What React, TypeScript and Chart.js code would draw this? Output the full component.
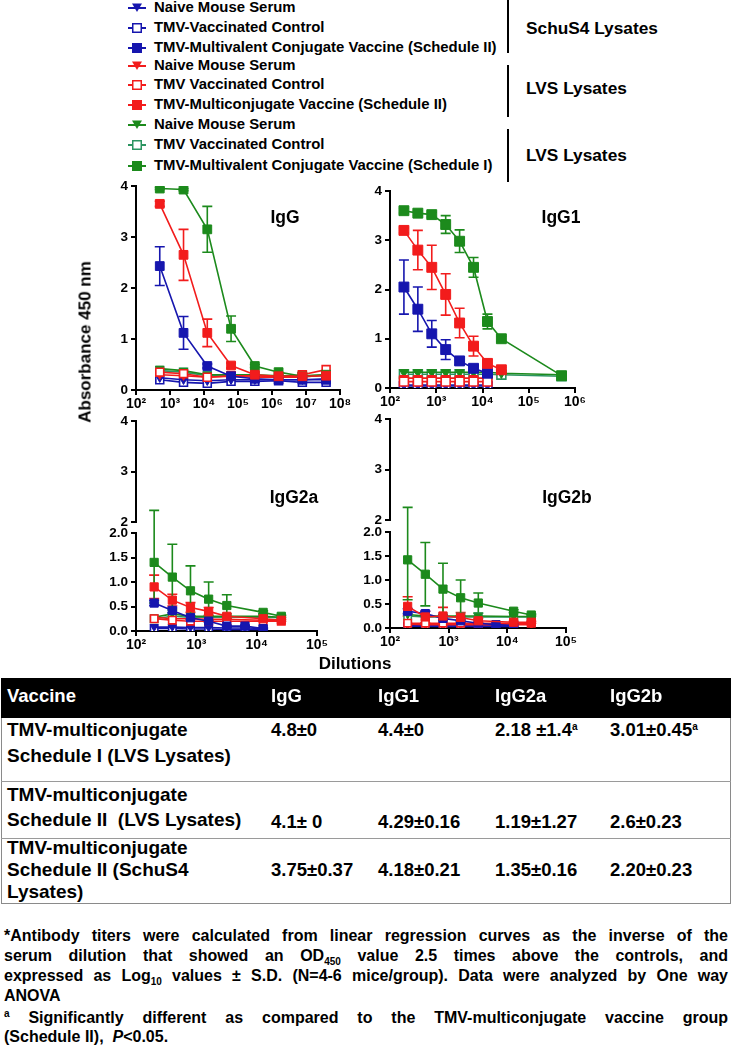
import React, { useEffect, useRef } from 'react';
import { Chart, registerables } from 'chart.js';

Chart.register(...registerables);

// ---------------- data ----------------
const BLUE = '#1616ae';
const RED = '#f21c1c';
const GREEN = '#1c8a1c';
const GREEN_OPEN = '#2b9461';

const LEGEND_LABELS = [
  'Naive Mouse Serum',
  'TMV-Vaccinated Control',
  'TMV-Multivalent Conjugate Vaccine (Schedule II)',
  'Naive Mouse Serum',
  'TMV Vaccinated Control',
  'TMV-Multiconjugate Vaccine (Schedule II)',
  'Naive Mouse Serum',
  'TMV Vaccinated Control',
  'TMV-Multivalent Conjugate Vaccine (Schedule I)',
];
const GROUP_LABELS = ['SchuS4 Lysates', 'LVS Lysates', 'LVS Lysates'];
const PANEL_TITLES = ['IgG', 'IgG1', 'IgG2a', 'IgG2b'];

const IGG_DILUTIONS = [500, 2500, 12500, 62500, 312500, 1562500, 7812500, 39062500];
const IGG1_DILUTIONS = [200, 400, 800, 1600, 3200, 6400, 12800, 25600, 512000];
const IGG2_DILUTIONS = [200, 400, 800, 1600, 3200, 6400, 12800, 25600];

const IGG_X_TICKS = [1e2, 1e3, 1e4, 1e5, 1e6, 1e7, 1e8];
const IGG1_X_TICKS = [1e2, 1e3, 1e4, 1e5, 1e6];
const IGG2_X_TICKS = [1e2, 1e3, 1e4, 1e5];
const Y_TICKS = [0, 1, 2, 3, 4];
const Y_LOW_TICKS = [0, 0.5, 1, 1.5, 2];
const Y_HIGH_TICKS = [2, 3, 4];

// IgG
const IGG_SCHU_NAIVE = [0.24, 0.2, 0.18, 0.2, 0.2, 0.2, 0.2, 0.22];
const IGG_SCHU_CTRL = [0.2, 0.15, 0.13, 0.17, 0.17, 0.18, 0.15, 0.15];
const IGG_SCHU_VAC = [2.43, 1.12, 0.47, 0.27, 0.22, 0.2, 0.2, 0.2];
const IGG_SCHU_VAC_ERR = [0.38, 0.32, 0.04, 0, 0, 0, 0, 0];
const IGG_LVS2_NAIVE = [0.3, 0.28, 0.25, 0.27, 0.25, 0.25, 0.25, 0.3];
const IGG_LVS2_CTRL = [0.35, 0.32, 0.25, 0.28, 0.28, 0.25, 0.3, 0.4];
const IGG_LVS2_VAC = [3.65, 2.65, 1.12, 0.48, 0.3, 0.27, 0.27, 0.28];
const IGG_LVS2_VAC_ERR = [0.05, 0.5, 0.27, 0.05, 0, 0, 0, 0];
const IGG_LVS1_NAIVE = [0.42, 0.38, 0.3, 0.3, 0.3, 0.28, 0.28, 0.3];
const IGG_LVS1_CTRL = [0.38, 0.35, 0.28, 0.28, 0.28, 0.27, 0.27, 0.28];
const IGG_LVS1_VAC = [3.95, 3.93, 3.15, 1.2, 0.47, 0.35, 0.27, 0.3];
const IGG_LVS1_VAC_ERR = [0.02, 0.02, 0.45, 0.25, 0.03, 0, 0, 0];

// IgG1
const IGG1_SCHU_NAIVE = [0.06, 0.06, 0.06, 0.06, 0.06, 0.06, 0.06, null, null];
const IGG1_SCHU_CTRL = [0.04, 0.04, 0.04, 0.04, 0.04, 0.04, 0.04, null, null];
const IGG1_SCHU_VAC = [2.05, 1.6, 1.1, 0.78, 0.55, 0.4, 0.3, null, null];
const IGG1_SCHU_VAC_ERR = [0.55, 0.45, 0.27, 0.2, 0.08, 0.05, 0.03, 0, 0];
const IGG1_LVS2_NAIVE = [0.2, 0.2, 0.2, 0.2, 0.2, 0.2, 0.2, null, null];
const IGG1_LVS2_CTRL = [0.13, 0.13, 0.13, 0.13, 0.13, 0.13, 0.13, null, null];
const IGG1_LVS2_VAC = [3.2, 2.8, 2.45, 1.9, 1.32, 0.85, 0.5, 0.37, null];
const IGG1_LVS2_VAC_ERR = [0.05, 0.4, 0.45, 0.42, 0.3, 0.2, 0.08, 0.05, 0];
const IGG1_LVS1_NAIVE = [0.32, 0.32, 0.32, 0.32, 0.32, 0.32, 0.32, 0.3, 0.27];
const IGG1_LVS1_CTRL = [0.28, 0.28, 0.28, 0.28, 0.28, 0.28, 0.28, 0.27, 0.24];
const IGG1_LVS1_VAC = [3.6, 3.55, 3.52, 3.32, 2.98, 2.45, 1.35, 1.0, 0.25];
const IGG1_LVS1_VAC_ERR = [0.05, 0.05, 0.05, 0.18, 0.23, 0.2, 0.15, 0.05, 0.08];

// IgG2a
const IGG2A_SCHU_NAIVE = [0.08, 0.08, 0.07, 0.07, 0.06, 0.06, 0.05, null];
const IGG2A_SCHU_CTRL = [0.05, 0.05, 0.04, 0.04, 0.03, 0.03, 0.03, null];
const IGG2A_SCHU_VAC = [0.57, 0.42, 0.27, 0.2, 0.1, 0.1, 0.05, null];
const IGG2A_SCHU_VAC_ERR = [0.05, 0.05, 0.03, 0.02, 0.02, 0.02, 0.01, 0];
const IGG2A_LVS2_NAIVE = [0.28, 0.25, 0.25, 0.24, 0.24, null, 0.22, 0.22];
const IGG2A_LVS2_CTRL = [0.25, 0.22, 0.2, 0.2, 0.2, null, 0.2, 0.2];
const IGG2A_LVS2_VAC = [0.9, 0.63, 0.48, 0.4, 0.3, null, 0.25, 0.22];
const IGG2A_LVS2_VAC_ERR = [0.24, 0.12, 0.1, 0.08, 0.05, 0, 0.03, 0.02];
const IGG2A_LVS1_NAIVE = [0.28, 0.35, 0.3, 0.3, 0.3, null, 0.3, 0.28];
const IGG2A_LVS1_CTRL = [0.25, 0.3, 0.28, 0.28, 0.28, null, 0.28, 0.27];
const IGG2A_LVS1_VAC = [1.4, 1.1, 0.82, 0.65, 0.52, null, 0.38, 0.3];
const IGG2A_LVS1_VAC_ERR = [0.83, 0.67, 0.51, 0.35, 0.22, 0, 0.03, 0.02];

// IgG2b
const IGG2B_SCHU_NAIVE = [0.06, 0.06, 0.05, 0.05, 0.05, 0.05, 0.05, null];
const IGG2B_SCHU_CTRL = [0.04, 0.04, 0.03, 0.03, 0.03, 0.03, 0.03, null];
const IGG2B_SCHU_VAC = [0.35, 0.3, 0.2, 0.15, 0.1, 0.07, 0.05, null];
const IGG2B_SCHU_VAC_ERR = [0.05, 0.05, 0.03, 0.02, 0.02, 0.02, 0.01, 0];
const IGG2B_LVS2_NAIVE = [0.08, 0.07, 0.07, 0.07, 0.07, null, 0.07, 0.07];
const IGG2B_LVS2_CTRL = [0.1, 0.1, 0.1, 0.1, 0.1, null, 0.1, 0.1];
const IGG2B_LVS2_VAC = [0.45, 0.23, 0.25, 0.22, 0.15, null, 0.12, 0.12];
const IGG2B_LVS2_VAC_ERR = [0.2, 0.12, 0.18, 0.1, 0.05, 0, 0.02, 0.02];
const IGG2B_LVS1_NAIVE = [0.28, 0.25, 0.25, 0.25, 0.25, null, 0.24, 0.24];
const IGG2B_LVS1_CTRL = [0.25, 0.23, 0.23, 0.23, 0.23, null, 0.23, 0.23];
const IGG2B_LVS1_VAC = [1.42, 1.12, 0.81, 0.63, 0.52, null, 0.35, 0.27];
const IGG2B_LVS1_VAC_ERR = [0.83, 0.66, 0.54, 0.37, 0.21, 0, 0.03, 0.02];

// table
const TABLE_HEADERS = ['Vaccine', 'IgG', 'IgG1', 'IgG2a', 'IgG2b'];
const TABLE_VACCINES = [
  ['TMV-multiconjugate', 'Schedule I (LVS Lysates)'],
  ['TMV-multiconjugate', 'Schedule II  (LVS Lysates)'],
  ['TMV-multiconjugate', 'Schedule II (SchuS4', 'Lysates)'],
];
const TABLE_IGG = ['4.8±0', '4.1± 0', '3.75±0.37'];
const TABLE_IGG1 = ['4.4±0', '4.29±0.16', '4.18±0.21'];
const TABLE_IGG2A = ['2.18 ±1.4', '1.19±1.27', '1.35±0.16'];
const TABLE_IGG2B = ['3.01±0.45', '2.6±0.23', '2.20±0.23'];
const TABLE_SIG = [[false, false, true, true], [false, false, false, false], [false, false, false, false]];

// ---------------- helpers ----------------
const FONT = '"Liberation Sans", Arial, Helvetica, sans-serif';
const SUP: Record<string, string> = { '0': '⁰', '1': '¹', '2': '²', '3': '³', '4': '⁴', '5': '⁵', '6': '⁶', '7': '⁷', '8': '⁸', '9': '⁹' };
const decadeLabel = (v: number) => '10' + String(Math.round(Math.log10(v))).split('').map((c) => SUP[c]).join('');

type Kind = 'naive' | 'ctrl' | 'vac';
interface Series { label: string; color: string; kind: Kind; values: (number | null)[]; errors?: number[] }

function groupSeries(schu: any[], lvs2: any[], lvs1: any[]): Series[] {
  // each group = [naive, ctrl, vac, vacErr]
  return [
    { label: LEGEND_LABELS[5], color: RED, kind: 'vac', values: lvs2[2], errors: lvs2[3] },
    { label: LEGEND_LABELS[2], color: BLUE, kind: 'vac', values: schu[2], errors: schu[3] },
    { label: LEGEND_LABELS[8], color: GREEN, kind: 'vac', values: lvs1[2], errors: lvs1[3] },
    { label: LEGEND_LABELS[4], color: RED, kind: 'ctrl', values: lvs2[1] },
    { label: LEGEND_LABELS[3], color: RED, kind: 'naive', values: lvs2[0] },
    { label: LEGEND_LABELS[6], color: GREEN, kind: 'naive', values: lvs1[0] },
    { label: LEGEND_LABELS[7], color: GREEN_OPEN, kind: 'ctrl', values: lvs1[1] },
    { label: LEGEND_LABELS[0], color: BLUE, kind: 'naive', values: schu[0] },
    { label: LEGEND_LABELS[1], color: BLUE, kind: 'ctrl', values: schu[1] },
  ];
}

function toDatasets(x: number[], list: Series[], r: number) {
  return list.map((s) => {
    const data: any[] = [];
    s.values.forEach((v, i) => {
      if (v != null) data.push({ x: x[i], y: v, e: s.errors ? s.errors[i] || 0 : 0 });
    });
    const tri = s.kind === 'naive';
    return {
      label: s.label,
      data,
      yAxisID: 'y',
      borderColor: s.color,
      borderWidth: 1.6,
      tension: 0,
      fill: false,
      spanGaps: true,
      pointStyle: tri ? 'triangle' : 'rect',
      pointRotation: tri ? 180 : 0,
      pointRadius: tri ? r * 0.75 : s.kind === 'ctrl' ? r * 0.9 : r,
      pointBackgroundColor: s.kind === 'ctrl' ? '#ffffff' : s.color,
      pointBorderColor: s.color,
      pointBorderWidth: s.kind === 'ctrl' ? 1.6 : 1,
    };
  });
}

const errorBars = {
  id: 'errorBars',
  beforeDatasetsDraw(chart: any) {
    const { ctx } = chart;
    const yLow = chart.scales.y;
    const yHigh = chart.scales.y2;
    const toPx = (v: number) => (yHigh && v > yLow.max ? yHigh.getPixelForValue(v) : yLow.getPixelForValue(v));
    const cap = 5;
    ctx.save();
    chart.data.datasets.forEach((ds: any, di: number) => {
      const meta = chart.getDatasetMeta(di);
      ds.data.forEach((p: any, i: number) => {
        if (!p.e) return;
        const el = meta.data[i];
        if (!el) return;
        const x = el.x;
        const t = toPx(p.y + p.e);
        const b = toPx(Math.max(p.y - p.e, 0));
        ctx.strokeStyle = ds.borderColor;
        ctx.lineWidth = 1.6;
        ctx.beginPath();
        ctx.moveTo(x, t);
        ctx.lineTo(x, b);
        ctx.moveTo(x - cap, t);
        ctx.lineTo(x + cap, t);
        ctx.moveTo(x - cap, b);
        ctx.lineTo(x + cap, b);
        ctx.stroke();
      });
    });
    ctx.restore();
  },
};

const upperAxisLine = {
  id: 'upperAxisLine',
  afterDraw(chart: any) {
    const y2 = chart.scales.y2;
    if (!y2) return;
    const y = chart.scales.y;
    const x = y._borderValue != null ? y._borderValue : y.right - 1;
    const { ctx } = chart;
    ctx.save();
    ctx.strokeStyle = '#000';
    ctx.lineWidth = 2;
    ctx.beginPath();
    ctx.moveTo(x, y2.getPixelForValue(4) - 1);
    ctx.lineTo(x, y2.getPixelForValue(2) + 1);
    ctx.stroke();
    ctx.restore();
  },
};

const tickFont = { family: FONT, size: 13.5, weight: 'bold' as const };
const axisStyle = () => ({
  grid: { display: true, drawOnChartArea: false, drawTicks: true, tickLength: 5, color: '#000', lineWidth: 2 },
  border: { display: true, color: '#000', width: 2 },
});

interface PanelSpec {
  x: number[];
  series: Series[];
  xTicks: number[];
  yWidth: number;
  xHeight: number;
  padTop: number;
  padRight: number;
  r: number;
  broken?: { upperWeight: number; lowerWeight: number; upperMin: number };
}

function makeConfig(p: PanelSpec): any {
  const xScale = {
    type: 'logarithmic',
    min: p.xTicks[0],
    max: p.xTicks[p.xTicks.length - 1],
    afterBuildTicks: (s: any) => { s.ticks = p.xTicks.map((v) => ({ value: v })); },
    afterFit: (s: any) => { s.height = p.xHeight; },
    ticks: { color: '#000', font: { ...tickFont, size: 14 }, autoSkip: false, maxRotation: 0, minRotation: 0, padding: 1, callback: (v: any) => decadeLabel(Number(v)) },
    ...axisStyle(),
  };
  const scales: any = { x: xScale };
  if (!p.broken) {
    scales.y = {
      type: 'linear', min: 0, max: 4,
      afterBuildTicks: (s: any) => { s.ticks = Y_TICKS.map((v) => ({ value: v })); },
      afterFit: (s: any) => { s.width = p.yWidth; },
      ticks: { color: '#000', font: tickFont, padding: 3, autoSkip: false, callback: (v: any) => String(v) },
      ...axisStyle(),
    };
  } else {
    scales.y2 = {
      type: 'linear', position: 'left', stack: 'v', stackWeight: p.broken.upperWeight, weight: 2,
      min: p.broken.upperMin, max: 4,
      afterBuildTicks: (s: any) => { s.ticks = Y_HIGH_TICKS.map((v) => ({ value: v })); },
      afterFit: (s: any) => { s.width = p.yWidth; },
      ticks: { color: '#000', font: tickFont, padding: 3, autoSkip: false, callback: (v: any) => String(v) },
      grid: { display: true, drawOnChartArea: false, drawTicks: true, tickLength: 5, color: '#000', lineWidth: 2 },
      border: { display: false },
    };
    scales.y = {
      type: 'linear', position: 'left', stack: 'v', stackWeight: p.broken.lowerWeight, weight: 1,
      min: 0, max: 2,
      afterBuildTicks: (s: any) => { s.ticks = Y_LOW_TICKS.map((v) => ({ value: v })); },
      afterFit: (s: any) => { s.width = p.yWidth; },
      ticks: { color: '#000', font: tickFont, padding: 3, autoSkip: false, callback: (v: any) => Number(v).toFixed(1) },
      ...axisStyle(),
    };
  }
  return {
    type: 'line',
    data: { datasets: toDatasets(p.x, p.series, p.r) },
    options: {
      animation: false,
      responsive: true,
      maintainAspectRatio: false,
      events: [],
      layout: { padding: { top: p.padTop, right: p.padRight, left: 0, bottom: 0 } },
      plugins: { legend: { display: false }, tooltip: { enabled: false }, title: { display: false } },
      scales,
    },
    plugins: [errorBars, upperAxisLine],
  };
}

function ChartPanel({ left, top, width, height, spec }: { left: number; top: number; width: number; height: number; spec: PanelSpec }) {
  const ref = useRef<HTMLCanvasElement>(null);
  useEffect(() => {
    const chart = new Chart(ref.current as HTMLCanvasElement, makeConfig(spec));
    return () => chart.destroy();
  }, []);
  return (
    <div style={{ position: 'absolute', left, top, width, height }}>
      <canvas ref={ref} />
    </div>
  );
}

const IGG_SPEC: PanelSpec = {
  x: IGG_DILUTIONS,
  series: groupSeries(
    [IGG_SCHU_NAIVE, IGG_SCHU_CTRL, IGG_SCHU_VAC, IGG_SCHU_VAC_ERR],
    [IGG_LVS2_NAIVE, IGG_LVS2_CTRL, IGG_LVS2_VAC, IGG_LVS2_VAC_ERR],
    [IGG_LVS1_NAIVE, IGG_LVS1_CTRL, IGG_LVS1_VAC, IGG_LVS1_VAC_ERR]),
  xTicks: IGG_X_TICKS, yWidth: 76, xHeight: 25, padTop: 16, padRight: 20, r: 6.2,
};
const IGG1_SPEC: PanelSpec = {
  x: IGG1_DILUTIONS,
  series: groupSeries(
    [IGG1_SCHU_NAIVE, IGG1_SCHU_CTRL, IGG1_SCHU_VAC, IGG1_SCHU_VAC_ERR],
    [IGG1_LVS2_NAIVE, IGG1_LVS2_CTRL, IGG1_LVS2_VAC, IGG1_LVS2_VAC_ERR],
    [IGG1_LVS1_NAIVE, IGG1_LVS1_CTRL, IGG1_LVS1_VAC, IGG1_LVS1_VAC_ERR]),
  xTicks: IGG1_X_TICKS, yWidth: 30, xHeight: 27, padTop: 21, padRight: 25, r: 7,
};
const IGG2A_SPEC: PanelSpec = {
  x: IGG2_DILUTIONS,
  series: groupSeries(
    [IGG2A_SCHU_NAIVE, IGG2A_SCHU_CTRL, IGG2A_SCHU_VAC, IGG2A_SCHU_VAC_ERR],
    [IGG2A_LVS2_NAIVE, IGG2A_LVS2_CTRL, IGG2A_LVS2_VAC, IGG2A_LVS2_VAC_ERR],
    [IGG2A_LVS1_NAIVE, IGG2A_LVS1_CTRL, IGG2A_LVS1_VAC, IGG2A_LVS1_VAC_ERR]),
  xTicks: IGG2_X_TICKS, yWidth: 76, xHeight: 29, padTop: 16, padRight: 43, r: 5.8,
  broken: { upperWeight: 112, lowerWeight: 98, upperMin: 2 - 11 / 50.5 },
};
const IGG2B_SPEC: PanelSpec = {
  x: IGG2_DILUTIONS,
  series: groupSeries(
    [IGG2B_SCHU_NAIVE, IGG2B_SCHU_CTRL, IGG2B_SCHU_VAC, IGG2B_SCHU_VAC_ERR],
    [IGG2B_LVS2_NAIVE, IGG2B_LVS2_CTRL, IGG2B_LVS2_VAC, IGG2B_LVS2_VAC_ERR],
    [IGG2B_LVS1_NAIVE, IGG2B_LVS1_CTRL, IGG2B_LVS1_VAC, IGG2B_LVS1_VAC_ERR]),
  xTicks: IGG2_X_TICKS, yWidth: 30, xHeight: 27, padTop: 16, padRight: 34, r: 5.8,
  broken: { upperWeight: 113, lowerWeight: 96, upperMin: 2 - 12 / 50.5 },
};

// ---------------- legend ----------------
const LEGEND_COLORS = [BLUE, BLUE, BLUE, RED, RED, RED, GREEN, GREEN_OPEN, GREEN];
const LEGEND_KINDS: Kind[] = ['naive', 'ctrl', 'vac', 'naive', 'ctrl', 'vac', 'naive', 'ctrl', 'vac'];
const LEGEND_Y = [8, 28, 48, 66, 85, 105, 125, 145, 166];
const GROUP_Y = [29, 89, 156];
const SEP_SEGMENTS = [[0, 53], [65, 117], [129, 182]];

function LegendMarker({ color, kind, cy }: { color: string; kind: Kind; cy: number }) {
  return (
    <svg width={20} height={12} style={{ position: 'absolute', left: 127, top: cy - 6 }}>
      <line x1={1} y1={6} x2={19} y2={6} stroke={color} strokeWidth={2} />
      {kind === 'naive' ? (
        <polygon points="5,1.5 15,1.5 10,10" fill={color} />
      ) : (
        <rect x={5.75} y={1.75} width={8.5} height={8.5} fill={kind === 'ctrl' ? '#fff' : color} stroke={color} strokeWidth={1.5} />
      )}
    </svg>
  );
}

const textAt = (cx: number, cy: number, size: number): React.CSSProperties => ({
  position: 'absolute', left: cx, top: cy, transform: 'translate(-50%, -50%)', fontSize: size, whiteSpace: 'nowrap', lineHeight: 1,
});
const leftAt = (x: number, cy: number, size: number): React.CSSProperties => ({
  position: 'absolute', left: x, top: cy, transform: 'translateY(-50%)', fontSize: size, whiteSpace: 'nowrap', lineHeight: 1.15,
});

const COL_X = [7, 271, 378, 495, 610];
const ROW_LINE_Y = [[730, 756], [795, 820], [848, 870, 892]];
const ROW_VALUE_Y = [730, 822, 870];
const FOOT_Y = [936, 956, 976, 996, 1018, 1037];

const footLine = (cy: number, justify: boolean): React.CSSProperties => ({
  position: 'absolute', left: 4, width: 724, top: cy - 10, height: 20, lineHeight: '20px', fontSize: 16,
  textAlign: justify ? 'justify' : 'left', textAlignLast: justify ? 'justify' : 'left', overflow: 'visible',
});

export default function App() {
  return (
    <div style={{ position: 'absolute', left: 0, top: 0, width: 732, height: 1045, overflow: 'hidden', background: '#fff', fontFamily: FONT, fontWeight: 'bold', color: '#000' }}>
      {/* legend */}
      {LEGEND_LABELS.map((lab, i) => (
        <React.Fragment key={i}>
          <LegendMarker color={LEGEND_COLORS[i]} kind={LEGEND_KINDS[i]} cy={LEGEND_Y[i]} />
          <div style={leftAt(154, LEGEND_Y[i], 14.9)}>{lab}</div>
        </React.Fragment>
      ))}
      {SEP_SEGMENTS.map(([a, b], i) => (
        <div key={i} style={{ position: 'absolute', left: 507, top: a, width: 2, height: b - a, background: '#000' }} />
      ))}
      {GROUP_LABELS.map((g, i) => (
        <div key={i} style={leftAt(526, GROUP_Y[i], 17.3)}>{g}</div>
      ))}

      {/* charts */}
      <ChartPanel left={60} top={170} width={300} height={245} spec={IGG_SPEC} />
      <ChartPanel left={360} top={170} width={240} height={245} spec={IGG1_SPEC} />
      <ChartPanel left={60} top={405} width={300} height={255} spec={IGG2A_SPEC} />
      <ChartPanel left={360} top={403} width={240} height={252} spec={IGG2B_SPEC} />

      <div style={textAt(285, 218, 17.5)}>{PANEL_TITLES[0]}</div>
      <div style={textAt(561, 218, 17.5)}>{PANEL_TITLES[1]}</div>
      <div style={textAt(294, 498, 17.5)}>{PANEL_TITLES[2]}</div>
      <div style={textAt(567, 498, 17.5)}>{PANEL_TITLES[3]}</div>

      <div style={{ ...textAt(85, 342, 17), transform: 'translate(-50%, -50%) rotate(-90deg)' }}>Absorbance 450 nm</div>
      <div style={textAt(355, 663, 17)}>Dilutions</div>

      {/* table */}
      <div style={{ position: 'absolute', left: 1, top: 678, width: 728, height: 225, border: '1px solid #8a8a8a', borderTop: 'none' }} />
      <div style={{ position: 'absolute', left: 1, top: 678, width: 730, height: 40, background: '#000' }} />
      <div style={{ position: 'absolute', left: 1, top: 781, width: 730, height: 1, background: '#9a9a9a' }} />
      <div style={{ position: 'absolute', left: 1, top: 838, width: 730, height: 1, background: '#9a9a9a' }} />
      {TABLE_HEADERS.map((h, i) => (
        <div key={i} style={{ ...leftAt(COL_X[i], 696, 18.5), color: '#fff' }}>{h}</div>
      ))}
      {TABLE_VACCINES.map((lines, r) => (
        <React.Fragment key={r}>
          {lines.map((t, j) => (
            <div key={j} style={{ ...leftAt(COL_X[0], ROW_LINE_Y[r][j], 19), whiteSpace: 'pre' }}>{t}</div>
          ))}
          {[TABLE_IGG, TABLE_IGG1, TABLE_IGG2A, TABLE_IGG2B].map((col, c) => (
            <div key={c} style={leftAt(COL_X[c + 1], ROW_VALUE_Y[r], 18.5)}>
              {col[r]}
              {TABLE_SIG[r][c] ? <sup style={{ fontSize: 10, verticalAlign: 6 }}>a</sup> : null}
            </div>
          ))}
        </React.Fragment>
      ))}

      {/* footnotes */}
      <div style={footLine(FOOT_Y[0], true)}>*Antibody titers were calculated from linear regression curves as the inverse of the</div>
      <div style={footLine(FOOT_Y[1], true)}>serum dilution that showed an OD<sub style={{ fontSize: 10, lineHeight: 0 }}>450</sub> value 2.5 times above the controls, and</div>
      <div style={footLine(FOOT_Y[2], true)}>expressed as Log<sub style={{ fontSize: 10, lineHeight: 0 }}>10</sub> values ± S.D. (N=4-6 mice/group). Data were analyzed by One way</div>
      <div style={footLine(FOOT_Y[3], false)}>ANOVA</div>
      <div style={footLine(FOOT_Y[4], true)}><sup style={{ fontSize: 10, lineHeight: 0 }}>a</sup> Significantly different as compared to the TMV-multiconjugate vaccine group</div>
      <div style={footLine(FOOT_Y[5], false)}>(Schedule II), &nbsp;<i>P</i>&lt;0.05.</div>
    </div>
  );
}
